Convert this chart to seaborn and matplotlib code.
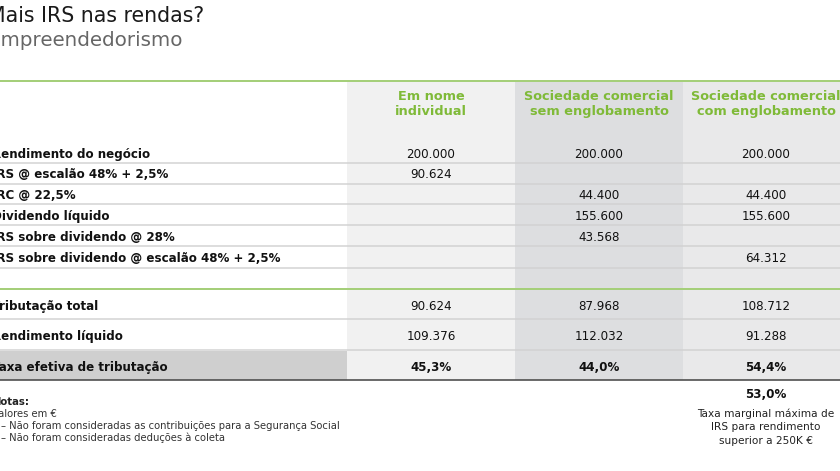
import matplotlib
matplotlib.use("Agg")
import matplotlib.pyplot as plt
import numpy as np
import seaborn as sns

# ---------------- data ----------------
title = "Mais IRS nas rendas?"
subtitle = "Empreendedorismo"
columns = ["Em nome\nindividual", "Sociedade comercial\nsem englobamento",
           "Sociedade comercial\ncom englobamento"]
row_labels = ["Rendimento do negócio", "IRS @ escalão 48% + 2,5%", "IRC @ 22,5%",
              "Dividendo líquido", "IRS sobre dividendo @ 28%",
              "IRS sobre dividendo @ escalão 48% + 2,5%"]
individual = [200000, 90624, np.nan, np.nan, np.nan, np.nan]
sem_englob = [200000, np.nan, 44400, 155600, 43568, np.nan]
com_englob = [200000, np.nan, 44400, 155600, np.nan, 64312]
summary_labels = ["Tributação total", "Rendimento líquido", "Taxa efetiva de tributação"]
tributacao_total = [90624, 87968, 108712]
rendimento_liquido = [109376, 112032, 91288]
taxa_efetiva = [45.3, 44.0, 54.4]
taxa_marginal = 53.0
marginal_note = "Taxa marginal máxima de\nIRS para rendimento\nsuperior a 250K €"
notes_title = "Notas:"
notes = ["Valores em €",
         "– Não foram consideradas as contribuições para a Segurança Social",
         "– Não foram consideradas deduções à coleta"]

# ---------------- style ----------------
sns.set_theme(style="white")
plt.rcParams["font.family"] = ["DejaVu Sans"]

W, H, DPI = 840, 471, 100
fig = plt.figure(figsize=(W / DPI, H / DPI), dpi=DPI)
ax = fig.add_axes([0, 0, 1, 1])
ax.set_xlim(0, W)
ax.set_ylim(H, 0)
ax.axis("off")

def pt(px):
    return px * 72 / DPI

def fmt_num(v):
    return "" if np.isnan(v) else f"{v:,.0f}".replace(",", ".")

def fmt_pct(v):
    return f"{v:.1f}%".replace(".", ",")

GREEN = "#7fba38"
GREEN_LINE = "#a5cf7a"
SEP = "#d2d2d2"
col_bounds = [(347, 515), (515, 683), (683, 850)]
col_colors = ["#f1f1f1", "#dddee0", "#e9e9ea"]
col_centers = [431, 599, 766]
label_x = -8
FS = 8.6

TOP, BOTTOM = 81, 380

# column backgrounds
for (x0, x1), c in zip(col_bounds, col_colors):
    ax.axvspan(x0, x1, ymin=1 - BOTTOM / H, ymax=1 - TOP / H, color=c, lw=0, zorder=0)
# taxa efetiva label background
ax.fill_between([0, 347], 351, BOTTOM, color="#cfcfcf", lw=0, zorder=0)

# title & subtitle
ax.text(-12, 22, title, fontsize=14.8, color="#1a1a1a", va="baseline", ha="left")
ax.text(-12, 46, subtitle, fontsize=14.3, color="#666666", va="baseline", ha="left")

# green top line
ax.plot([0, W], [TOP, TOP], color=GREEN_LINE, lw=pt(2), zorder=2)

# headers
for xc, name in zip(col_centers, columns):
    l1, l2 = name.split("\n")
    ax.text(xc, 95, l1, fontsize=9.3, fontweight="bold", color=GREEN,
            ha="center", va="center_baseline")
    ax.text(xc, 110, l2, fontsize=9.3, fontweight="bold", color=GREEN,
            ha="center", va="center_baseline")

# detail rows
row_y = [153, 173, 194, 215, 236, 257]
sep_y = [163, 184, 204, 225, 246, 268]
series = [individual, sem_englob, com_englob]
for i, (lab, y) in enumerate(zip(row_labels, row_y)):
    ax.text(label_x, y, lab, fontsize=FS, fontweight="bold", color="#111111",
            ha="left", va="center_baseline")
    for xc, s in zip(col_centers, series):
        ax.text(xc, y, fmt_num(s[i]), fontsize=FS, color="#111111",
                ha="center", va="center_baseline")
for y in sep_y:
    ax.plot([0, W], [y, y], color=SEP, lw=pt(1.5), zorder=1)

# green separator
ax.plot([0, W], [289, 289], color=GREEN_LINE, lw=pt(2), zorder=2)

# summary rows
sum_y = [305, 335, 366]
for lab, y in zip(summary_labels, sum_y):
    ax.text(label_x, y, lab, fontsize=FS, fontweight="bold",
            color="#111111", ha="left", va="center_baseline")
for xc, a, b, c in zip(col_centers, tributacao_total, rendimento_liquido, taxa_efetiva):
    ax.text(xc, sum_y[0], fmt_num(a), fontsize=FS, color="#111111",
            ha="center", va="center_baseline")
    ax.text(xc, sum_y[1], fmt_num(b), fontsize=FS, color="#111111",
            ha="center", va="center_baseline")
    ax.text(xc, sum_y[2], fmt_pct(c), fontsize=FS, fontweight="bold", color="#111111",
            ha="center", va="center_baseline")
for y in [319, 350]:
    ax.plot([0, W], [y, y], color=SEP, lw=pt(1.5), zorder=1)
ax.plot([0, W], [380, 380], color="#4a4a4a", lw=pt(1.6), zorder=2)

# marginal rate note
ax.text(col_centers[2], 393, fmt_pct(taxa_marginal), fontsize=FS, fontweight="bold",
        color="#111111", ha="center", va="center_baseline")
for k, line in enumerate(marginal_note.split("\n")):
    ax.text(col_centers[2], 413 + k * 13.5, line, fontsize=7.6, color="#222222",
            ha="center", va="center_baseline")

# notes
ax.text(-8, 401, notes_title, fontsize=7.3, fontweight="bold", color="#222222",
        ha="left", va="center_baseline")
note_x = [-8, 1, 1]
for k, (nx, line) in enumerate(zip(note_x, notes)):
    ax.text(nx, 413 + k * 12, line, fontsize=7.2, color="#333333",
            ha="left", va="center_baseline")

fig.savefig("out.png", dpi=DPI)
